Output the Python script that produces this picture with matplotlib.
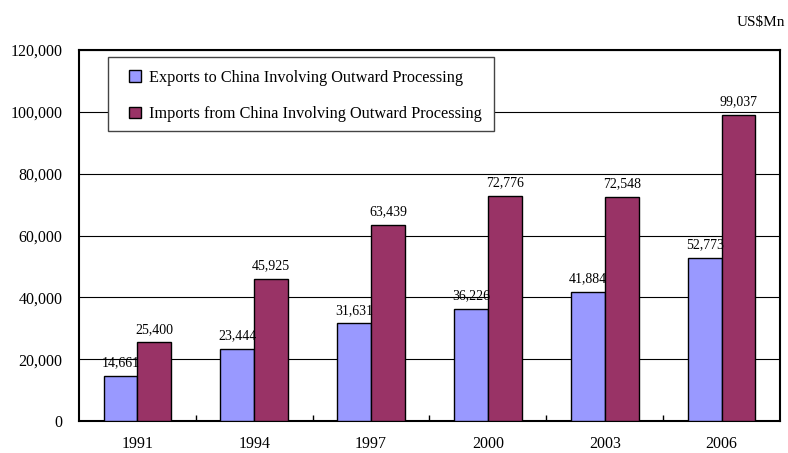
import numpy as np
import matplotlib.pyplot as plt
from matplotlib.patches import Rectangle

years = ["1991", "1994", "1997", "2000", "2003", "2006"]
exports = [14661, 23444, 31631, 36226, 41884, 52773]
imports = [25400, 45925, 63439, 72776, 72548, 99037]

plt.rcParams["font.family"] = ["Liberation Serif", "DejaVu Serif"]

fig = plt.figure(figsize=(7.88, 4.53), dpi=100)
ax = fig.add_axes([0.1003, 0.0706, 0.8895, 0.819])

x = np.arange(len(years))
w = 0.29
ax.bar(x - w / 2, exports, w, color="#9999FF", edgecolor="black", linewidth=1.0,
       label="Exports to China Involving Outward Processing", zorder=3)
ax.bar(x + w / 2, imports, w, color="#993366", edgecolor="black", linewidth=1.0,
       label="Imports from China Involving Outward Processing", zorder=3)

for xi, v in zip(x - w / 2, exports):
    ax.text(xi, v + 2100, f"{v:,}", ha="center", va="bottom", fontsize=10)
for xi, v in zip(x + w / 2, imports):
    ax.text(xi, v + 2100, f"{v:,}", ha="center", va="bottom", fontsize=10)

ax.set_xlim(-0.5, len(years) - 0.5)
ax.set_ylim(0, 120000)
ax.set_yticks(range(0, 120001, 20000))
ax.set_yticklabels([f"{v:,}" for v in range(0, 120001, 20000)], fontsize=11.5)
ax.set_xticks(x)
ax.set_xticklabels(years, fontsize=11.5)
ax.tick_params(axis="x", length=0, pad=11)
ax.tick_params(axis="y", length=0, pad=12)
ax.set_xticks(np.arange(0.5, len(years) - 0.5, 1), minor=True)
ax.tick_params(axis="x", which="minor", direction="in", length=4, width=1)
ax.grid(axis="y", color="black", linewidth=0.8, zorder=0)
for s in ax.spines.values():
    s.set_linewidth(1.5)
    s.set_color("black")

# legend box
ax.add_patch(Rectangle((0.0414, 0.782), 0.551, 0.199, transform=ax.transAxes,
                       facecolor="white", edgecolor="#444444", linewidth=1.0, zorder=4))
leg = ax.legend(loc="upper left", bbox_to_anchor=(0.0715, 0.947), fontsize=11.7,
                frameon=False, handlelength=0.7, handleheight=0.7, labelspacing=1.25,
                borderpad=0, borderaxespad=0, handletextpad=0.5)
leg.set_zorder(5)

fig.text(0.997, 0.95, "US$Mn", ha="right", va="center", fontsize=11)

fig.savefig("out.png", dpi=100)
